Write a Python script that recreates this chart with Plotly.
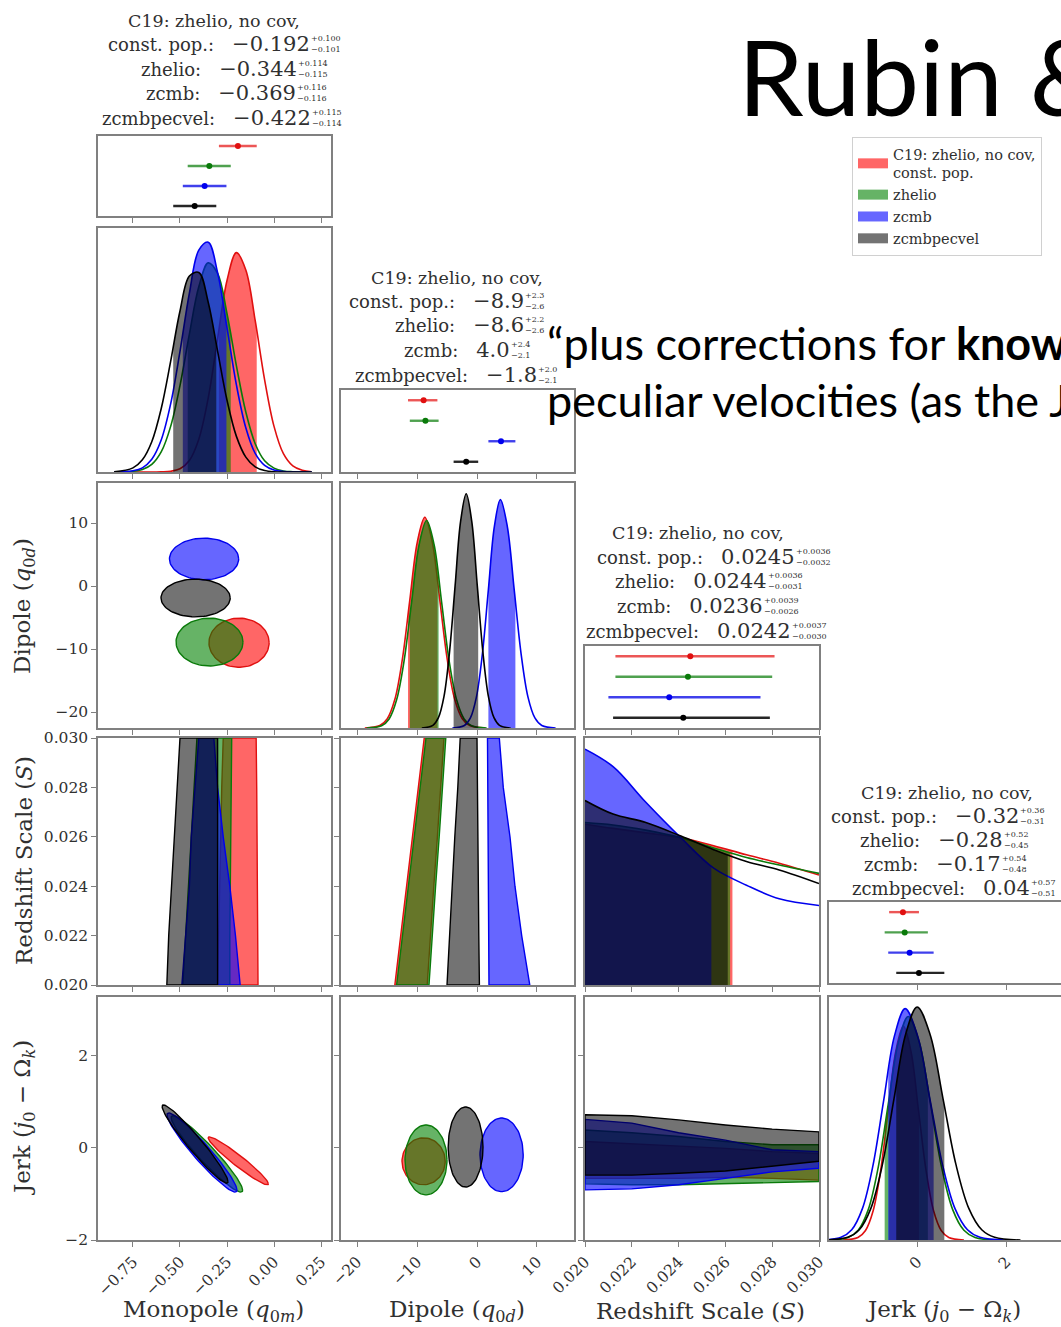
import numpy as np
import plotly.graph_objects as go

W, H = 1061, 1327

# ---------------- data ----------------
series_names = ["C19: zhelio, no cov,<br>const. pop.", "zhelio", "zcmb", "zcmbpecvel"]
short_names = ["const. pop.", "zhelio", "zcmb", "zcmbpecvel"]
param_titles = ["Monopole (<i>q</i><sub>0<i>m</i></sub>)",
                "Dipole (<i>q</i><sub>0<i>d</i></sub>)",
                "Redshift Scale (<i>S</i>)",
                "Jerk (<i>j</i><sub>0</sub> − Ω<sub><i>k</i></sub>)"]

# summary statistics: median, +err, -err (red, green, blue, black)
mono_med = [-0.192, -0.344, -0.369, -0.422]
mono_plus = [0.100, 0.114, 0.116, 0.115]
mono_minus = [0.101, 0.115, 0.116, 0.114]
dip_med = [-8.9, -8.6, 4.0, -1.8]
dip_plus = [2.3, 2.2, 2.4, 2.0]
dip_minus = [2.6, 2.6, 2.1, 2.1]
s_med = [0.0245, 0.0244, 0.0236, 0.0242]
s_plus = [0.0036, 0.0036, 0.0039, 0.0037]
s_minus = [0.0032, 0.0031, 0.0026, 0.0030]
jerk_med = [-0.32, -0.28, -0.17, 0.04]
jerk_plus = [0.36, 0.52, 0.54, 0.57]
jerk_minus = [0.31, 0.45, 0.48, 0.51]
decimals = [3, 1, 4, 2]

# tick values / labels
mono_ticks = [-0.75, -0.50, -0.25, 0.00, 0.25]
mono_ticktext = ["−0.75", "−0.50", "−0.25", "0.00", "0.25"]
dip_ticks = [-20, -10, 0, 10]
dip_ticktext = ["−20", "−10", "0", "10"]
s_ticks = [0.020, 0.022, 0.024, 0.026, 0.028, 0.030]
s_ticktext = ["0.020", "0.022", "0.024", "0.026", "0.028", "0.030"]
jerk_ticks = [-2, 0, 2]
jerk_ticktext = ["−2", "0", "2"]

# 1D marginal densities (relative height) ---------------------------------
mono_grid = [-0.85, -0.75, -0.70, -0.65, -0.60, -0.55, -0.50, -0.45, -0.40, -0.35, -0.30,
             -0.25, -0.20, -0.15, -0.10, -0.05, 0.00, 0.05, 0.10, 0.15, 0.20]
mono_red = [0.0, 0.0, 0.0, 0.0, 0.001, 0.003, 0.013, 0.047, 0.134, 0.303, 0.546,
            0.785, 0.899, 0.828, 0.620, 0.378, 0.187, 0.075, 0.025, 0.007, 0.001]
mono_green = [0.0, 0.003, 0.010, 0.031, 0.082, 0.186, 0.354, 0.565, 0.759, 0.857, 0.814,
              0.649, 0.435, 0.246, 0.116, 0.046, 0.016, 0.004, 0.001, 0.0, 0.0]
mono_blue = [0.0, 0.005, 0.017, 0.052, 0.131, 0.278, 0.494, 0.733, 0.909, 0.942, 0.817,
             0.591, 0.357, 0.181, 0.076, 0.027, 0.008, 0.002, 0.0, 0.0, 0.0]
mono_black = [0.001, 0.017, 0.050, 0.124, 0.259, 0.452, 0.660, 0.803, 0.818, 0.696, 0.495,
              0.294, 0.146, 0.061, 0.021, 0.006, 0.001, 0.0, 0.0, 0.0, 0.0]

dip_x_red = [-18.7, -16.2, -14.95, -13.7, -12.45, -11.2, -9.95, -8.7, -7.45, -6.2, -4.95, -3.7, -2.45, -1.2, 1.3]
dip_y_red = [0.0, 0.010, 0.038, 0.116, 0.279, 0.522, 0.759, 0.860, 0.759, 0.522, 0.279, 0.116, 0.038, 0.010, 0.0]
dip_x_green = [-18.4, -15.9, -14.65, -13.4, -12.15, -10.9, -9.65, -8.4, -7.15, -5.9, -4.65, -3.4, -2.15, -0.9, 1.6]
dip_y_green = [0.0, 0.009, 0.037, 0.115, 0.275, 0.514, 0.748, 0.847, 0.748, 0.514, 0.275, 0.115, 0.037, 0.009, 0.0]
dip_x_blue = [-4.1, -2.1, -1.1, -0.1, 0.9, 1.9, 2.9, 3.9, 5.05, 6.2, 7.35, 8.5, 9.65, 10.8, 13.1]
dip_y_blue = [0.0, 0.010, 0.041, 0.126, 0.303, 0.565, 0.823, 0.932, 0.823, 0.565, 0.303, 0.126, 0.041, 0.010, 0.0]
dip_x_black = [-9.2, -7.35, -6.43, -5.5, -4.58, -3.65, -2.73, -1.8, -0.88, 0.05, 0.98, 1.9, 2.83, 3.75, 5.6]
dip_y_black = [0.0, 0.011, 0.042, 0.129, 0.310, 0.580, 0.844, 0.956, 0.844, 0.580, 0.310, 0.129, 0.042, 0.011, 0.0]

s_grid = [0.0200, 0.0212, 0.0226, 0.0241, 0.0255, 0.0269, 0.0283, 0.0300]
s_red = [0.651, 0.634, 0.616, 0.596, 0.564, 0.527, 0.493, 0.445]
s_green = [0.658, 0.648, 0.627, 0.596, 0.555, 0.516, 0.486, 0.452]
s_blue = [0.955, 0.884, 0.740, 0.596, 0.473, 0.404, 0.349, 0.322]
s_black = [0.747, 0.692, 0.658, 0.603, 0.548, 0.500, 0.466, 0.411]
s_hpd_low = [0.0200, 0.0200, 0.0200, 0.0200]
s_hpd_high = [0.0263, 0.0262, 0.0254, 0.0261]

jerk_x_red = [-1.67, -1.33, -1.16, -0.99, -0.82, -0.65, -0.48, -0.31, -0.14, 0.03, 0.20, 0.37, 0.54, 0.71, 1.05]
jerk_y_red = [0.0, 0.010, 0.039, 0.119, 0.286, 0.534, 0.777, 0.880, 0.777, 0.534, 0.286, 0.119, 0.039, 0.010, 0.0]
jerk_x_green = [-2.0, -1.55, -1.325, -1.1, -0.875, -0.65, -0.425, -0.2, 0.05, 0.3, 0.55, 0.8, 1.05, 1.3, 1.8]
jerk_y_green = [0.0, 0.010, 0.040, 0.124, 0.299, 0.558, 0.812, 0.920, 0.812, 0.558, 0.299, 0.124, 0.040, 0.010, 0.0]
jerk_x_blue = [-2.19, -1.71, -1.47, -1.23, -0.99, -0.75, -0.51, -0.27, 0.01, 0.29, 0.57, 0.85, 1.13, 1.41, 1.97]
jerk_y_blue = [0.0, 0.011, 0.042, 0.129, 0.309, 0.577, 0.840, 0.952, 0.840, 0.577, 0.309, 0.129, 0.042, 0.011, 0.0]
jerk_x_black = [-2.08, -1.56, -1.30, -1.04, -0.78, -0.52, -0.26, 0.0, 0.29, 0.58, 0.87, 1.16, 1.45, 1.74, 2.32]
jerk_y_black = [0.0, 0.011, 0.042, 0.130, 0.311, 0.582, 0.846, 0.959, 0.846, 0.582, 0.311, 0.130, 0.042, 0.011, 0.0]

# 2D 68% contours read as centre / half-extent / correlation ----------------
md_cx = [-0.186, -0.343, -0.372, -0.417]
md_cy = [-9.0, -8.9, 4.3, -1.9]
md_ax = [0.160, 0.178, 0.184, 0.184]
md_ay = [3.9, 3.8, 3.3, 3.0]
md_rho = [0.0, 0.0, 0.0, 0.0]

mj_cx = [-0.19, -0.357, -0.383, -0.42]
mj_cy = [-0.28, -0.13, -0.10, 0.085]
mj_ax = [0.16, 0.19, 0.186, 0.175]
mj_ay = [0.52, 0.83, 0.86, 0.85]
mj_rho = [-0.96, -0.95, -0.95, -0.96]

dj_cx = [-8.9, -8.5, 4.1, -1.9]
dj_cy = [-0.29, -0.26, -0.15, 0.02]
dj_ax = [3.6, 3.5, 3.6, 2.9]
dj_ay = [0.51, 0.76, 0.80, 0.87]
dj_rho = [0.0, 0.0, 0.0, 0.0]

# Bands involving the redshift scale S (S sampled on band_s)
band_s = [0.020, 0.022, 0.024, 0.026, 0.028, 0.030]
ms_left = [[-0.30, -0.295, -0.29, -0.285, -0.278, -0.27],
           [-0.485, -0.47, -0.455, -0.44, -0.425, -0.41],
           [-0.49, -0.47, -0.45, -0.44, -0.42, -0.40],
           [-0.57, -0.56, -0.545, -0.53, -0.515, -0.50]]
ms_right = [[-0.085, -0.087, -0.09, -0.09, -0.092, -0.095],
            [-0.235, -0.235, -0.232, -0.23, -0.228, -0.225],
            [-0.18, -0.205, -0.235, -0.27, -0.30, -0.32],
            [-0.30, -0.30, -0.30, -0.30, -0.30, -0.30]]
ds_left = [[-13.7, -12.7, -11.7, -10.7, -9.8, -8.8],
           [-13.4, -12.4, -11.4, -10.4, -9.5, -8.5],
           [2.0, 1.95, 1.9, 1.85, 1.8, 1.75],
           [-5.0, -4.6, -4.1, -3.7, -3.2, -2.8]]
ds_right = [[-8.3, -7.8, -7.2, -6.6, -6.0, -5.5],
            [-8.0, -7.5, -6.9, -6.3, -5.7, -5.2],
            [8.8, 7.45, 6.33, 5.5, 4.38, 3.72],
            [0.4, 0.3, 0.2, 0.15, 0.05, 0.0]]
sj_upper = [[0.14, 0.09, 0.04, -0.01, -0.08, -0.12],
            [0.39, 0.33, 0.25, 0.14, 0.07, 0.07],
            [0.62, 0.54, 0.33, 0.17, -0.04, -0.08],
            [0.72, 0.70, 0.61, 0.50, 0.41, 0.35]]
sj_lower = [[-0.66, -0.66, -0.66, -0.64, -0.66, -0.70],
            [-0.78, -0.80, -0.80, -0.77, -0.75, -0.73],
            [-0.91, -0.89, -0.80, -0.66, -0.52, -0.44],
            [-0.59, -0.59, -0.55, -0.50, -0.40, -0.29]]

# ---------------- styling ----------------
line_colors = ["#e01010", "#0a7a0a", "#0000ee", "#000000"]
fill_colors = ["rgba(255,0,0,0.6)", "rgba(0,128,0,0.6)", "rgba(0,0,255,0.6)", "rgba(0,0,0,0.55)"]
bar_colors = ["rgba(230,30,30,0.75)", "rgba(20,130,20,0.75)", "rgba(0,0,230,0.75)", "rgba(0,0,0,0.85)"]
SERIF = "DejaVu Serif"
TXT = "#303030"

col_x = [(98, 331), (341, 574), (585, 819), (829, 1061)]
row_y = [(228, 472), (483, 728), (738, 985), (997, 1240)]
err_y = [(136, 216), (390, 472), (646, 728), (902, 983)]
x_ranges = [[-0.936, 0.303], [-22.67, 16.17], [0.020, 0.030], [-1.98, 3.23]]
y_ranges = [None, [-22.54, 16.35], [0.020, 0.030], [-2.0, 3.28]]
tick_sets = [(mono_ticks, mono_ticktext), (dip_ticks, dip_ticktext),
             (s_ticks, s_ticktext), (jerk_ticks, jerk_ticktext)]

base_axis = dict(showline=True, linecolor="#808080", linewidth=1.5, mirror=True,
                 showgrid=False, zeroline=False, ticks="outside", ticklen=5,
                 tickwidth=1.2, tickcolor="#808080", automargin=False,
                 tickfont=dict(family=SERIF, size=15.5, color=TXT))

layout_axes = {}
counter = [0]


def make_axes(xdom, ydom, xr, yr, xt, yt, xlab, ylab):
    counter[0] += 1
    n = counter[0]
    sfx = "" if n == 1 else str(n)
    xa = dict(base_axis, domain=[xdom[0] / W, xdom[1] / W], range=xr, anchor="y" + sfx)
    ya = dict(base_axis, domain=[1 - ydom[1] / H, 1 - ydom[0] / H], range=yr, anchor="x" + sfx)
    if xt is None:
        xa.update(ticks="", showticklabels=False)
    else:
        xa.update(tickvals=xt[0], ticktext=xt[1], showticklabels=xlab)
        if xlab:
            xa.update(tickangle=-45)
    if yt is None:
        ya.update(ticks="", showticklabels=False)
    else:
        ya.update(tickvals=yt[0], ticktext=yt[1], showticklabels=ylab)
    layout_axes["xaxis" + sfx] = xa
    layout_axes["yaxis" + sfx] = ya
    return "x" + sfx, "y" + sfx


fig = go.Figure()

meds = [mono_med, dip_med, s_med, jerk_med]
pluses = [mono_plus, dip_plus, s_plus, jerk_plus]
minuses = [mono_minus, dip_minus, s_minus, jerk_minus]
err_levels = [3, 2, 1, 0]

# ---------- error-bar summary panels ----------
for k in range(4):
    xa, ya = make_axes(col_x[k], err_y[k], x_ranges[k], [-0.5, 3.5], tick_sets[k], None, False, False)
    for s in range(4):
        fig.add_trace(go.Scatter(
            x=[meds[k][s]], y=[err_levels[s]], mode="markers",
            marker=dict(color=line_colors[s], size=6),
            error_x=dict(type="data", symmetric=False, array=[pluses[k][s]],
                         arrayminus=[minuses[k][s]], color=bar_colors[s], thickness=2.4, width=0),
            showlegend=False, hoverinfo="skip", xaxis=xa, yaxis=ya))

# ---------- 1D marginals ----------
oned = [
    ([mono_grid] * 4, [mono_red, mono_green, mono_blue, mono_black],
     [m - e for m, e in zip(mono_med, mono_minus)], [m + e for m, e in zip(mono_med, mono_plus)]),
    ([dip_x_red, dip_x_green, dip_x_blue, dip_x_black], [dip_y_red, dip_y_green, dip_y_blue, dip_y_black],
     [m - e for m, e in zip(dip_med, dip_minus)], [m + e for m, e in zip(dip_med, dip_plus)]),
    ([s_grid] * 4, [s_red, s_green, s_blue, s_black], s_hpd_low, s_hpd_high),
    ([jerk_x_red, jerk_x_green, jerk_x_blue, jerk_x_black], [jerk_y_red, jerk_y_green, jerk_y_blue, jerk_y_black],
     [m - e for m, e in zip(jerk_med, jerk_minus)], [m + e for m, e in zip(jerk_med, jerk_plus)]),
]
for k in range(4):
    xa, ya = make_axes(col_x[k], row_y[k], x_ranges[k], [0, 1.0], tick_sets[k], None, k == 3, False)
    xs_list, ys_list, lows, highs = oned[k]
    for s in range(4):
        xs = np.array(xs_list[s], dtype=float)
        ys = np.array(ys_list[s], dtype=float)
        lo, hi = lows[s], highs[s]
        inside = (xs > lo) & (xs < hi)
        fx = [lo] + list(xs[inside]) + [hi]
        fy = [float(np.interp(lo, xs, ys))] + list(ys[inside]) + [float(np.interp(hi, xs, ys))]
        fig.add_trace(go.Scatter(x=fx, y=fy, mode="lines", fill="tozeroy",
                                 fillcolor=fill_colors[s], line=dict(width=0, shape="spline"),
                                 showlegend=False, hoverinfo="skip", xaxis=xa, yaxis=ya))
        fig.add_trace(go.Scatter(x=xs, y=ys, mode="lines",
                                 line=dict(color=line_colors[s], width=1.6, shape="spline"),
                                 showlegend=False, hoverinfo="skip", xaxis=xa, yaxis=ya))


def add_poly(x, y, s, xa, ya, shape="linear"):
    fig.add_trace(go.Scatter(x=x, y=y, mode="lines", fill="toself", fillcolor=fill_colors[s],
                             line=dict(color=line_colors[s], width=1.4, shape=shape),
                             showlegend=False, hoverinfo="skip", xaxis=xa, yaxis=ya))


def ellipse_pts(cx, cy, ax, ay, rho):
    t = np.linspace(0, 2 * np.pi, 91)
    x = cx + ax * np.cos(t)
    y = cy + ay * (rho * np.cos(t) + np.sqrt(1 - rho ** 2) * np.sin(t))
    return x, y


# ---------- 2D panels ----------
# Monopole vs Dipole
xa, ya = make_axes(col_x[0], row_y[1], x_ranges[0], y_ranges[1], tick_sets[0], tick_sets[1], False, True)
legend_axes = (xa, ya)
for s in range(4):
    ex, ey = ellipse_pts(md_cx[s], md_cy[s], md_ax[s], md_ay[s], md_rho[s])
    add_poly(ex, ey, s, xa, ya)

# Monopole vs S
xa, ya = make_axes(col_x[0], row_y[2], x_ranges[0], y_ranges[2], tick_sets[0], tick_sets[2], False, True)
for s in range(4):
    add_poly(ms_left[s] + ms_right[s][::-1] + [ms_left[s][0]],
             band_s + band_s[::-1] + [band_s[0]], s, xa, ya)

# Dipole vs S
xa, ya = make_axes(col_x[1], row_y[2], x_ranges[1], y_ranges[2], tick_sets[1], tick_sets[2], False, False)
for s in range(4):
    add_poly(ds_left[s] + ds_right[s][::-1] + [ds_left[s][0]],
             band_s + band_s[::-1] + [band_s[0]], s, xa, ya)

# Monopole vs Jerk
xa, ya = make_axes(col_x[0], row_y[3], x_ranges[0], y_ranges[3], tick_sets[0], tick_sets[3], True, True)
for s in range(4):
    ex, ey = ellipse_pts(mj_cx[s], mj_cy[s], mj_ax[s], mj_ay[s], mj_rho[s])
    add_poly(ex, ey, s, xa, ya)

# Dipole vs Jerk
xa, ya = make_axes(col_x[1], row_y[3], x_ranges[1], y_ranges[3], tick_sets[1], tick_sets[3], True, False)
for s in range(4):
    ex, ey = ellipse_pts(dj_cx[s], dj_cy[s], dj_ax[s], dj_ay[s], dj_rho[s])
    add_poly(ex, ey, s, xa, ya)

# S vs Jerk
xa, ya = make_axes(col_x[2], row_y[3], x_ranges[2], y_ranges[3], tick_sets[2], tick_sets[3], True, False)
for s in range(4):
    add_poly(band_s + band_s[::-1] + [band_s[0]],
             sj_upper[s] + sj_lower[s][::-1] + [sj_upper[s][0]], s, xa, ya)

# legend entries (thick line patches)
for s in range(4):
    fig.add_trace(go.Scatter(x=[None], y=[None], mode="lines",
                             line=dict(width=10, color=fill_colors[s]),
                             name=series_names[s], showlegend=True,
                             xaxis=legend_axes[0], yaxis=legend_axes[1]))

# ---------- text ----------
annotations = []


def ann(text, px, py, size, xanchor="center", yanchor="middle", family=SERIF, color=TXT, angle=0):
    annotations.append(dict(text=text, x=px / W, y=1 - py / H, xref="paper", yref="paper",
                            showarrow=False, xanchor=xanchor, yanchor=yanchor, textangle=angle,
                            font=dict(family=family, size=size, color=color)))


def fmt(v, nd):
    return ("−" if v < 0 else "") + f"{abs(v):.{nd}f}"


title_line_y = [[21, 44, 69, 93, 118], [278, 301, 325, 350, 375],
                [533, 557, 581, 606, 631], [793, 816, 840, 864, 888]]
title_xc = [214, 457, 698, 947]
title_xend = [[311.7, 299, 298, 312.7], [526, 526, 511.7, 539.3],
              [796.7, 769, 765, 793.3], [1021, 1005, 1002.7, 1031.7]]
for k in range(4):
    ann("C19: zhelio, no cov,", title_xc[k], title_line_y[k][0], 17.5)
    for s in range(4):
        yv = title_line_y[k][s + 1]
        xe = title_xend[k][s]
        ann(f"{short_names[s]}:\u2003<span style='font-size:21px'>{fmt(meds[k][s], decimals[k])}</span>",
            xe, yv, 18, xanchor="right")
        ann("+" + fmt(pluses[k][s], decimals[k]), xe - 3, yv - 5.5, 8, xanchor="left")
        ann("−" + fmt(minuses[k][s], decimals[k]), xe - 3, yv + 5.5, 8, xanchor="left")

# axis titles
bottom_xc = [213, 457, 700, 943]
for k in range(4):
    ann(param_titles[k], bottom_xc[k], 1311, 23)
left_yc = [None, 606, 861, 1118]
for r in range(1, 4):
    ann(param_titles[r], 24, left_yc[r], 23, angle=-90)

# slide texts
ann("Rubin &amp;", 736, 75, 105, xanchor="left", family="Lato", color="#000000")
ann("“plus corrections for <b>known</b>", 545, 343, 45, xanchor="left", family="Lato", color="#000000")
ann("peculiar velocities (as the JLA", 545, 400, 45, xanchor="left", family="Lato", color="#000000")

fig.update_layout(
    width=W, height=H, autosize=False,
    margin=dict(l=0, r=0, t=0, b=0, pad=0),
    paper_bgcolor="white", plot_bgcolor="white",
    font=dict(family=SERIF, color=TXT),
    showlegend=True,
    legend=dict(x=852 / W, y=1 - 137 / H, xanchor="left", yanchor="top",
                bgcolor="white", bordercolor="#d0d0d0", borderwidth=1,
                font=dict(family=SERIF, size=14.5, color=TXT), itemwidth=30, tracegroupgap=0),
    annotations=annotations,
    **layout_axes,
)

fig.write_html("out.html", config={"displayModeBar": False},
               post_script="document.body.style.margin='0';")
